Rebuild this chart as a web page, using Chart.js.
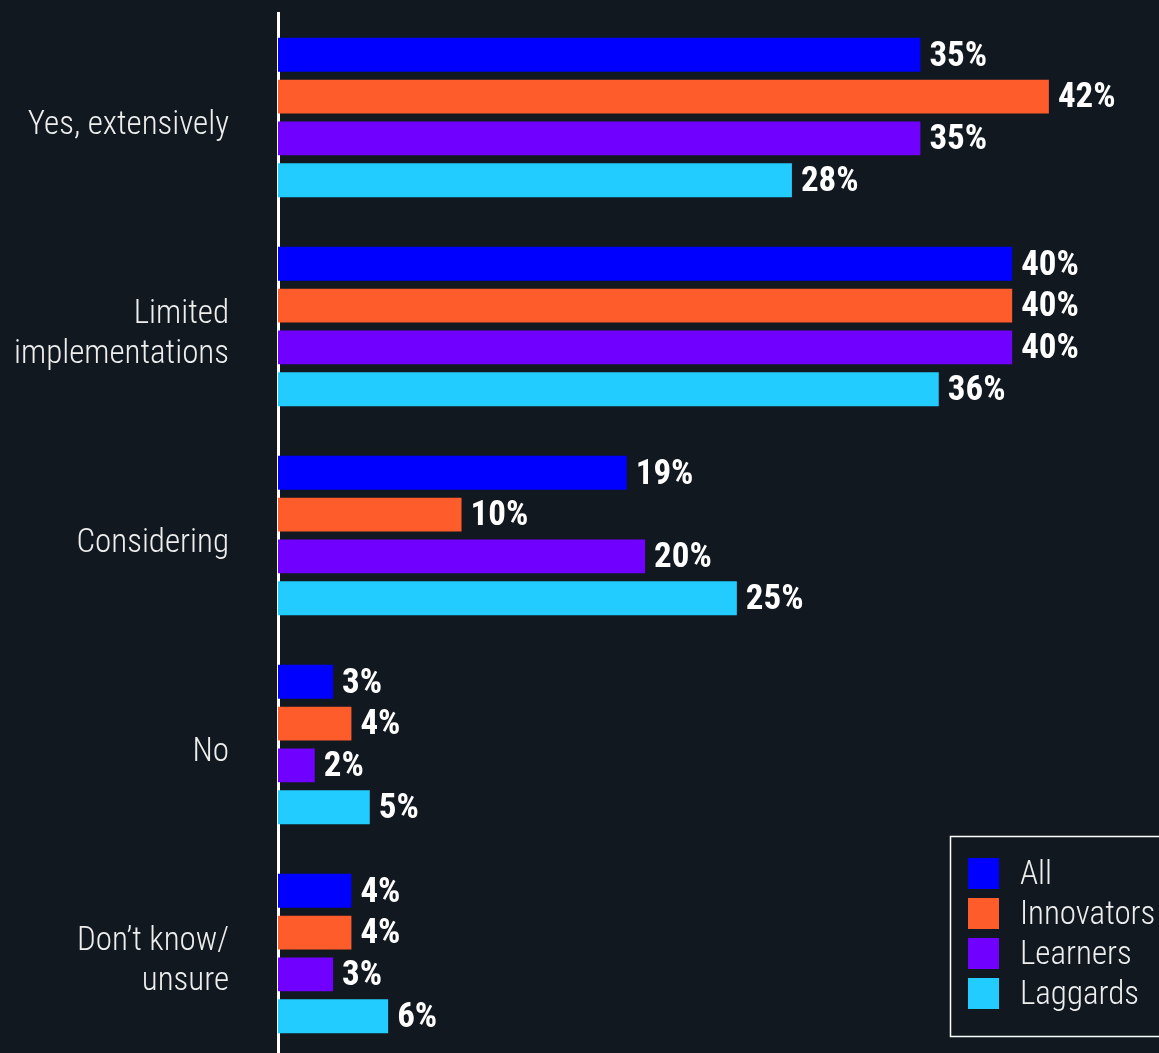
<!DOCTYPE html>
<html>
<head>
<meta charset="utf-8">
<script src="https://cdn.jsdelivr.net/npm/chart.js@4/dist/chart.umd.min.js"></script>
<style>
  html, body { margin: 0; padding: 0; background: #111820; overflow: hidden; }
  #wrap { width: 1159px; height: 1058px; position: relative; }
</style>
</head>
<body>
<div id="wrap"><canvas id="barChart"></canvas></div>
<script>
// data
const categories = [
    "Yes, extensively",
    ["Limited", "implementations"],
    "Considering",
    "No",
    ["Don\u2019t know/", "unsure"]
];
const seriesNames = ["All", "Innovators", "Learners", "Laggards"];
const allValues = [35, 40, 19, 3, 4];
const innovatorValues = [42, 40, 10, 4, 4];
const learnerValues = [35, 40, 20, 2, 3];
const laggardValues = [28, 36, 25, 5, 6];
const seriesColors = ["#0000ff", "#ff5c2b", "#7000ff", "#22ccff"];

const fontFamily = "'Liberation Sans Narrow', 'Roboto Condensed', 'Arial Narrow', Roboto, sans-serif";

// value labels at the end of each bar
const valueLabels = {
    id: "valueLabels",
    afterDatasetsDraw(chart) {
        const ctx = chart.ctx;
        ctx.save();
        ctx.fillStyle = "#ffffff";
        ctx.font = "bold 35px " + fontFamily;
        ctx.textAlign = "left";
        ctx.textBaseline = "middle";
        chart.data.datasets.forEach((ds, i) => {
            chart.getDatasetMeta(i).data.forEach((bar, j) => {
                ctx.fillText(ds.data[j] + "%", bar.x + 9, bar.y + 2);
            });
        });
        ctx.restore();
    }
};

// boxed legend in the lower right
const boxLegend = {
    id: "boxLegend",
    afterDraw(chart) {
        const ctx = chart.ctx;
        ctx.save();
        ctx.strokeStyle = "#ffffff";
        ctx.lineWidth = 1.5;
        ctx.strokeRect(950.5, 836.5, 230, 200);
        ctx.font = "300 33px " + fontFamily;
        ctx.textBaseline = "middle";
        ctx.textAlign = "left";
        chart.data.datasets.forEach((ds, i) => {
            const y = 858 + i * 40;
            ctx.fillStyle = ds.backgroundColor;
            ctx.fillRect(968, y, 31, 31);
            ctx.fillStyle = "#eeeeee";
            ctx.fillText(ds.label, 1020, y + 18);
        });
        ctx.restore();
    }
};

const ctx = document.getElementById("barChart").getContext("2d");
const valueLists = [allValues, innovatorValues, learnerValues, laggardValues];

new Chart(ctx, {
    type: "bar",
    data: {
        labels: categories,
        datasets: seriesNames.map((name, i) => ({
            label: name,
            data: valueLists[i],
            backgroundColor: seriesColors[i],
            borderWidth: 0,
            categoryPercentage: 0.8,
            barPercentage: 0.81
        }))
    },
    options: {
        indexAxis: "y",
        responsive: true,
        maintainAspectRatio: false,
        animation: false,
        layout: { padding: { top: 13, bottom: 0, right: 0, left: 0 } },
        plugins: {
            legend: { display: false },
            tooltip: { enabled: false }
        },
        scales: {
            x: {
                display: false,
                min: 0,
                max: 48
            },
            y: {
                afterFit(scale) {
                    scale.width = 278;
                    scale.paddingTop = 0;
                    scale.paddingBottom = 0;
                },
                grid: { display: false, drawTicks: false },
                border: { display: true, color: "#ffffff", width: 3 },
                ticks: {
                    color: "#eeeeee",
                    padding: 49,
                    labelOffset: 8,
                    font: { family: fontFamily, size: 33, weight: 300, lineHeight: 1.2 }
                }
            }
        }
    },
    plugins: [valueLabels, boxLegend]
});
</script>
</body>
</html>
